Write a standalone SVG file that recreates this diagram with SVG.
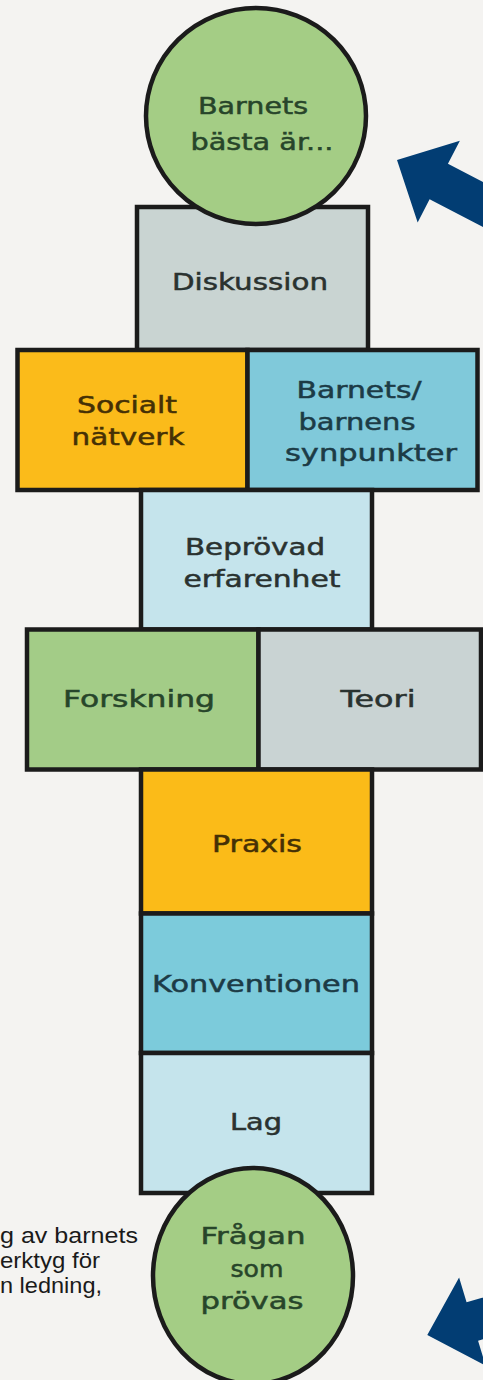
<svg xmlns="http://www.w3.org/2000/svg" width="483" height="1380" viewBox="0 0 483 1380">
<style>
.box{stroke:#1b1b1b;stroke-width:4.5}
.circ{fill:#a4cd85;stroke:#1b1b1b;stroke-width:4.5}
.lbl{font-family:"DejaVu Sans","Noto Sans",sans-serif;font-size:23px;text-anchor:middle;stroke-width:0.5}
.dk{fill:#2a3230;stroke:#2a3230}
.gr{fill:#27452a;stroke:#27452a}
.or{fill:#453005;stroke:#453005}
.tl{fill:#1c3b46;stroke:#1c3b46}
.side{font-family:"Liberation Sans",Arial,sans-serif;font-size:22px;fill:#1a1a1a}
.arr{fill:#023d73}
</style>
<defs>
<polygon id="arrowShape" points="0,0 47,-46 47,-20 220,-20 220,20 47,20 47,46"/>
</defs>
<rect x="0" y="0" width="483" height="1380" fill="#f4f3f1"/>

<g id="diskussion">
<rect class="box" x="137" y="207" width="231" height="143" fill="#c9d4d2"/>
<text class="lbl dk" x="250" y="290" textLength="156" lengthAdjust="spacingAndGlyphs">Diskussion</text>
</g>
<g id="socialt-natverk">
<rect class="box" x="17.5" y="350" width="230" height="140" fill="#fbbb1a"/>
<text class="lbl or" x="127" y="413" textLength="100" lengthAdjust="spacingAndGlyphs">Socialt</text>
<text class="lbl or" x="128" y="445" textLength="113" lengthAdjust="spacingAndGlyphs">nätverk</text>
</g>
<g id="barnets-synpunkter">
<rect class="box" x="247.5" y="350" width="230" height="140" fill="#80c9da"/>
<text class="lbl tl" x="359" y="398" textLength="125" lengthAdjust="spacingAndGlyphs">Barnets/</text>
<text class="lbl tl" x="357" y="430" textLength="117" lengthAdjust="spacingAndGlyphs">barnens</text>
<text class="lbl tl" x="371" y="461" textLength="172" lengthAdjust="spacingAndGlyphs">synpunkter</text>
</g>
<g id="beprovad-erfarenhet">
<rect class="box" x="141" y="490" width="231" height="139.5" fill="#c5e4ec"/>
<text class="lbl dk" x="255" y="555" textLength="140" lengthAdjust="spacingAndGlyphs">Beprövad</text>
<text class="lbl dk" x="262" y="587" textLength="157" lengthAdjust="spacingAndGlyphs">erfarenhet</text>
</g>
<g id="forskning">
<rect class="box" x="27" y="629.5" width="231.5" height="140" fill="#a3cc87"/>
<text class="lbl gr" x="139" y="707" textLength="152" lengthAdjust="spacingAndGlyphs">Forskning</text>
</g>
<g id="teori">
<rect class="box" x="258.5" y="629.5" width="222.5" height="140" fill="#c9d3d3"/>
<text class="lbl dk" x="378" y="707" textLength="75" lengthAdjust="spacingAndGlyphs">Teori</text>
</g>
<g id="praxis">
<rect class="box" x="141" y="769.5" width="231" height="144" fill="#fbbb18"/>
<text class="lbl or" x="257" y="852" textLength="90" lengthAdjust="spacingAndGlyphs">Praxis</text>
</g>
<g id="konventionen">
<rect class="box" x="141" y="913.5" width="231" height="139.5" fill="#7ccbdb"/>
<text class="lbl tl" x="256" y="992" textLength="208" lengthAdjust="spacingAndGlyphs">Konventionen</text>
</g>
<g id="lag">
<rect class="box" x="141" y="1053" width="231" height="140" fill="#c5e4ec"/>
<text class="lbl dk" x="256" y="1130" textLength="52" lengthAdjust="spacingAndGlyphs">Lag</text>
</g>

<g id="barnets-basta">
<ellipse class="circ" cx="256" cy="116" rx="110" ry="108"/>
<text class="lbl gr" x="253" y="114" textLength="110" lengthAdjust="spacingAndGlyphs">Barnets</text>
<text class="lbl gr" x="262" y="150" textLength="143" lengthAdjust="spacingAndGlyphs">bästa är...</text>
</g>
<g id="fragan-som-provas">
<ellipse class="circ" cx="253" cy="1276" rx="100" ry="108"/>
<text class="lbl gr" x="253" y="1244" textLength="105" lengthAdjust="spacingAndGlyphs">Frågan</text>
<text class="lbl gr" x="257" y="1277" textLength="53" lengthAdjust="spacingAndGlyphs">som</text>
<text class="lbl gr" x="252" y="1309" textLength="103" lengthAdjust="spacingAndGlyphs">prövas</text>
</g>

<g id="side-text">
<text class="side" x="0" y="1243" textLength="138" lengthAdjust="spacingAndGlyphs">g av barnets</text>
<text class="side" x="0" y="1268" textLength="100" lengthAdjust="spacingAndGlyphs">erktyg för</text>
<text class="side" x="0" y="1293" textLength="102" lengthAdjust="spacingAndGlyphs">n ledning,</text>
</g>

<g id="connectors">
<use href="#arrowShape" class="arr" transform="translate(397,160) rotate(27.3)"/>
<use href="#arrowShape" class="arr" transform="translate(427.3,1335) rotate(-16.7)"/>
</g>
</svg>
